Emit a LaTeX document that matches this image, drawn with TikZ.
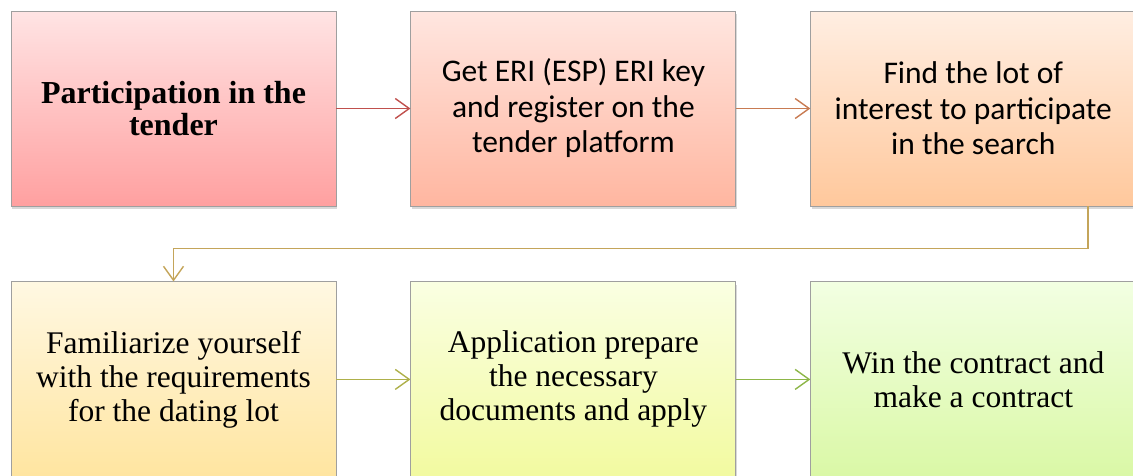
\documentclass[tikz,border=0pt]{standalone}
\usepackage{fontspec}
\setmainfont{Liberation Serif}
\newfontfamily\calibrifont{Carlito}
\usetikzlibrary{positioning,shadows,arrows.meta}

\definecolor{redA}{HTML}{C0504D}
\definecolor{orangeA}{HTML}{C87B52}
\definecolor{tanA}{HTML}{C4A55A}
\definecolor{oliveA}{HTML}{AEB04A}
\definecolor{greenA}{HTML}{8DB648}
\definecolor{topA}{HTML}{FFE4E4}
\definecolor{botA}{HTML}{FFA0A0}
\definecolor{topB}{HTML}{FFE6E0}
\definecolor{botB}{HTML}{FFB6A0}
\definecolor{topC}{HTML}{FFEEE2}
\definecolor{botC}{HTML}{FFC89C}
\definecolor{topD}{HTML}{FFF8E2}
\definecolor{botD}{HTML}{FFE5A0}
\definecolor{topE}{HTML}{FAFFE2}
\definecolor{botE}{HTML}{F2FAA0}
\definecolor{topF}{HTML}{F2FFE2}
\definecolor{botF}{HTML}{DAF8A6}

\tikzset{
    stepbox/.style = {draw = gray!75, line width = 0.9pt, rectangle,
        minimum width = 325pt, minimum height = 195pt, inner sep = 0pt,
        align = center,
        drop shadow = {shadow xshift = 1pt, shadow yshift = -3pt, opacity = 0.3, fill = gray}},
    serifbox/.style = {font = \fontsize{31.5}{34}\selectfont},
    boldbox/.style = {font = \fontsize{32}{32.5}\selectfont\bfseries},
    sansbox/.style = {font = \calibrifont\fontsize{31.5}{35.5}\selectfont},
    conn/.style = {line width = 1.4pt, -{Straight Barb[length = 14pt, width = 20pt, line width = 1.4pt]}}
}

\begin{document}
\begin{tikzpicture}[x = 1pt, y = 1pt, node distance = 75pt and 74pt]
        \useasboundingbox (0,0) rectangle (1133,-475);
        % top row
        \node[stepbox, boldbox, top color = topA, bottom color = botA] (b1) at (173.5,-108.5)
            {Participation in the\\ tender};
        \node[stepbox, sansbox, right = of b1, top color = topB, bottom color = botB] (b2)
            {Get ERI (ESP) ERI key\\ and register on the\\ tender platform};
        \node[stepbox, sansbox, right = of b2, top color = topC, bottom color = botC] (b3)
            {Find the lot of\\ interest to participate\\ in the search};
        % bottom row
        \node[stepbox, serifbox, below = of b1, top color = topD, bottom color = botD] (b4)
            {Familiarize yourself\\ with the requirements\\ for the dating lot};
        \node[stepbox, serifbox, right = of b4, top color = topE, bottom color = botE] (b5)
            {Application prepare\\ the necessary\\ documents and apply};
        \node[stepbox, serifbox, right = of b5, top color = topF, bottom color = botF] (b6)
            {Win the contract and\\ make a contract};
        % connectors
        \foreach \a/\b/\c in {b1/b2/redA, b2/b3/orangeA, b4/b5/oliveA, b5/b6/greenA}
            \draw[conn, \c] (\a) -- (\b);
        \coordinate (turn) at ([xshift = 114.5pt, yshift = -42pt]b3.south);
        \draw[conn, tanA] (turn |- b3.south) -- (turn) -| (b4.north);
    \end{tikzpicture}
\end{document}
